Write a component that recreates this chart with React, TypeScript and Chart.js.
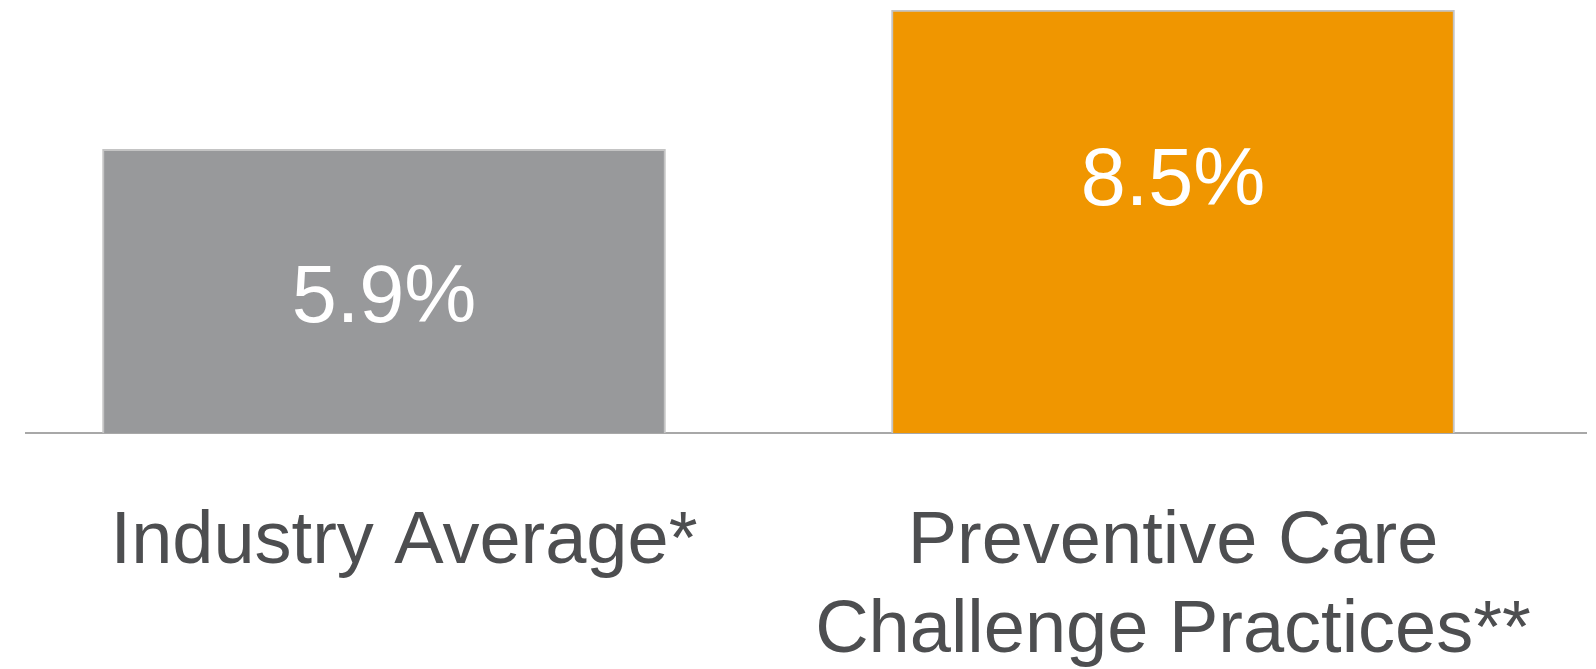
import React, { useEffect, useRef } from 'react';
import { Chart, registerables } from 'chart.js';

Chart.register(...registerables);

// ---- Data ----
const categories: (string | string[])[] = [
  'Industry Average*',
  ['Preventive Care', 'Challenge Practices**'],
];
const values: number[] = [5.9, 8.5];
const valueLabels: string[] = ['5.9%', '8.5%'];
const barColors: string[] = ['#98999b', '#f09600'];

const FONT = "'Liberation Sans', Arial, Helvetica, sans-serif";

// style: horizontal nudge of each category label (px)
const labelNudgePx: number[] = [20, 0];
const X_MIN = -0.45374;
const X_MAX = 1.52344;
const PLOT_WIDTH = 1560;

const valueLabelPlugin = {
  id: 'valueLabels',
  afterDatasetsDraw(chart: any, _args: any, opts: any) {
    const meta = chart.getDatasetMeta(0);
    const ctx = chart.ctx as CanvasRenderingContext2D;
    const bottom = chart.chartArea.bottom;
    ctx.save();
    ctx.fillStyle = opts.color;
    ctx.font = `${opts.size}px ${FONT}`;
    ctx.textAlign = 'center';
    ctx.textBaseline = 'alphabetic';
    meta.data.forEach((bar: any, i: number) => {
      const { x, y, base } = bar.getProps(['x', 'y', 'base'], true);
      const b = Math.min(base, bottom);
      const frac = opts.anchors[i] ?? 0.5;
      ctx.fillText(valueLabels[i], x, y + (b - y) * frac);
    });
    ctx.restore();
  },
};

export default function App() {
  const canvasRef = useRef<HTMLCanvasElement | null>(null);

  useEffect(() => {
    const canvas = canvasRef.current;
    if (!canvas) return;
    const chart = new Chart(canvas, {
      type: 'bar',
      data: {
        datasets: [
          {
            data: values.map((v, i) => ({ x: i, y: v })),
            backgroundColor: barColors,
            borderColor: '#c4c4c4',
            borderWidth: 2,
            borderSkipped: 'start',
            barThickness: 563,
          } as any,
        ],
      },
      options: {
        animation: false,
        responsive: false,
        devicePixelRatio: 1,
        layout: { padding: { left: 26, right: 10, top: 10, bottom: 0 } },
        plugins: {
          legend: { display: false },
          title: { display: false },
          tooltip: { enabled: false },
          valueLabels: { color: '#ffffff', size: 81, anchors: [0.608, 0.461] },
        } as any,
        scales: {
          x: {
            type: 'linear',
            offset: false,
            min: X_MIN,
            max: X_MAX,
            grid: { display: false, drawTicks: false },
            border: { display: true, color: '#a8a8a8', width: 2 },
            afterBuildTicks: (scale: any) => {
              const unitPerPx = (X_MAX - X_MIN) / PLOT_WIDTH;
              scale.ticks = categories.map((_, i) => ({
                value: i + (labelNudgePx[i] || 0) * unitPerPx,
              }));
            },
            afterFit: (scale: any) => {
              scale.height = 236;
              scale.paddingLeft = 0;
              scale.paddingRight = 0;
            },
            ticks: {
              autoSkip: false,
              maxRotation: 0,
              minRotation: 0,
              padding: 65,
              color: '#4d4e50',
              font: { family: FONT, size: 74, lineHeight: 1.2 },
              callback: (value: any) => {
                const idx = Math.round(Number(value));
                return categories[idx] ?? '';
              },
            },
          },
          y: {
            display: false,
            min: 0.6,
            max: 8.5,
          },
        },
      },
      plugins: [valueLabelPlugin as any],
    });
    return () => chart.destroy();
  }, []);

  return (
    <div
      style={{
        position: 'fixed',
        left: 0,
        top: 0,
        width: 1596,
        height: 669,
        background: '#ffffff',
        overflow: 'hidden',
      }}
    >
      <canvas
        ref={canvasRef}
        width={1596}
        height={669}
        style={{ width: 1596, height: 669, display: 'block' }}
      />
    </div>
  );
}
